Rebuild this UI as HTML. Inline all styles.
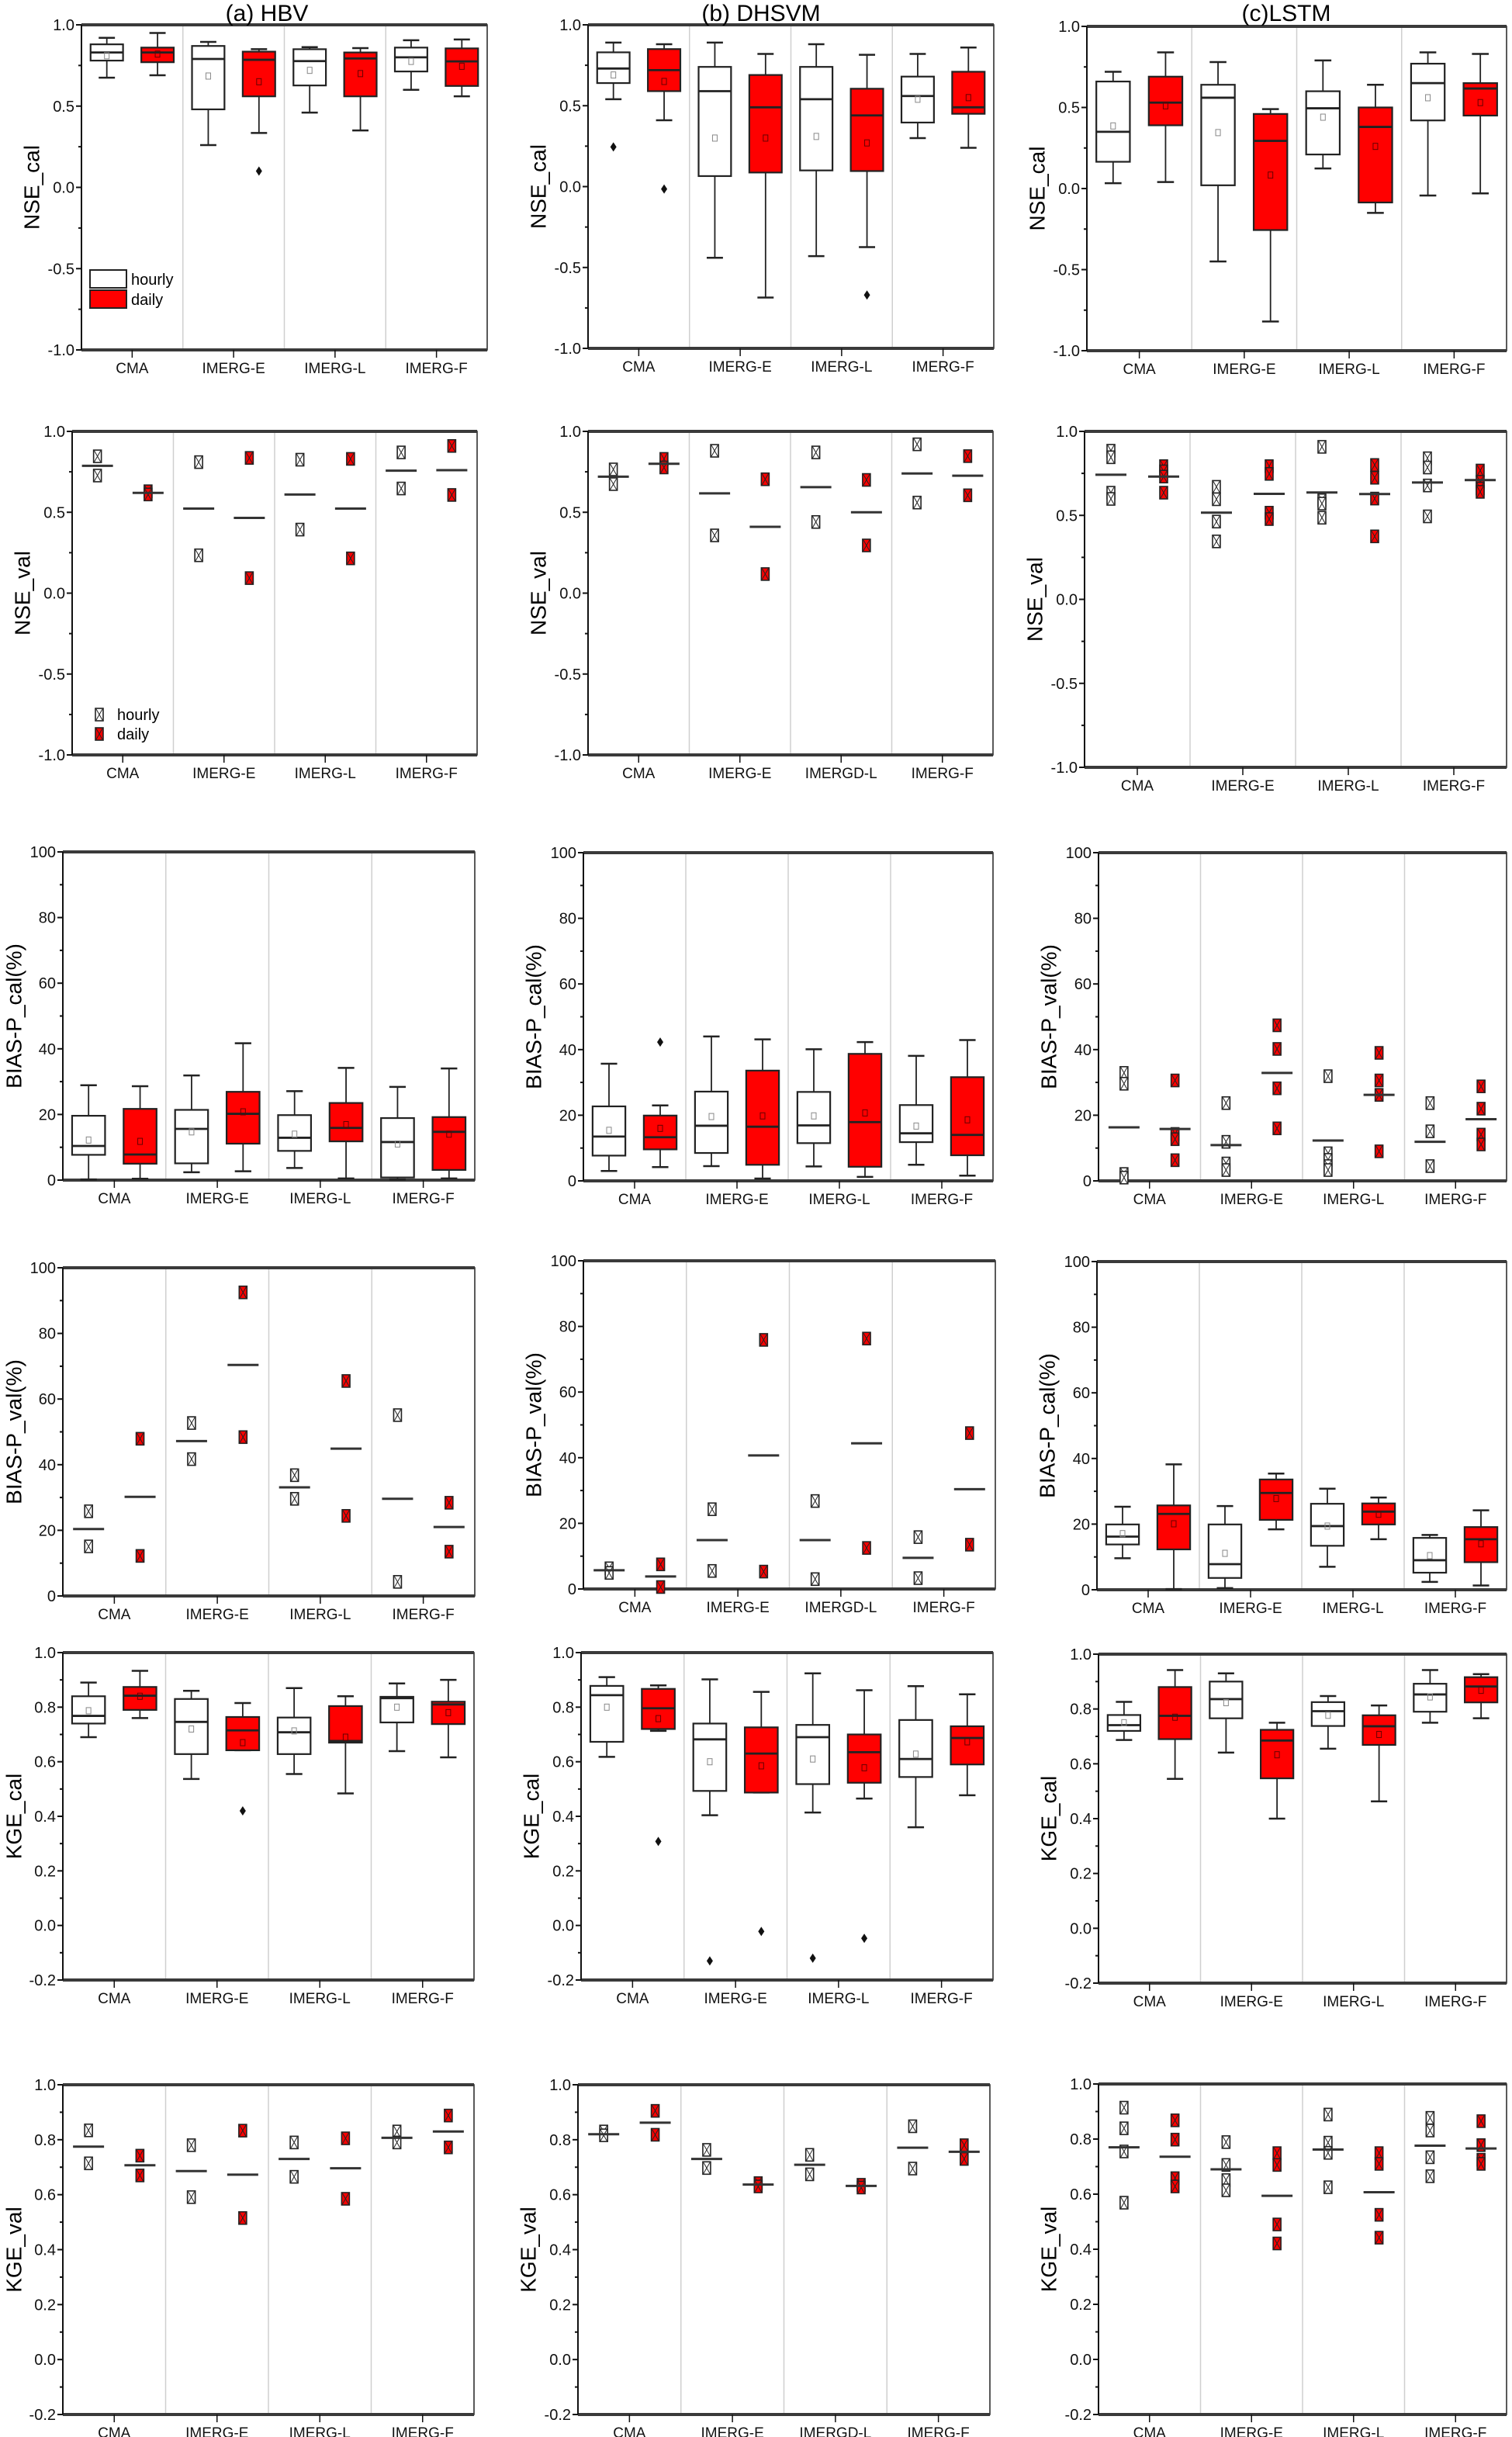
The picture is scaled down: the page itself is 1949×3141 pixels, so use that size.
<!DOCTYPE html>
<html><head><meta charset="utf-8"><style>
html,body{margin:0;padding:0;background:#fff;}
svg{display:block;font-family:"Liberation Sans",sans-serif;}
</style></head><body>
<svg id="fig" width="1949" height="3141" viewBox="0 0 1949 3141" xmlns="http://www.w3.org/2000/svg"></svg>
<script>
// ---------- data ----------
const categories = ["CMA","IMERG-E","IMERG-L","IMERG-F"];
const categoriesD = ["CMA","IMERG-E","IMERGD-L","IMERG-F"];
// box stats: [min, q1, median, q3, max, mean]
const hbvNseCalHourly = [[0.675,0.78,0.83,0.88,0.92,0.81],[0.26,0.48,0.79,0.87,0.895,0.685],[0.46,0.627,0.777,0.85,0.863,0.72],[0.60,0.713,0.80,0.86,0.905,0.775]];
const hbvNseCalDaily = [[0.69,0.77,0.83,0.86,0.95,0.82],[0.335,0.56,0.785,0.835,0.85,0.65],[0.35,0.56,0.793,0.83,0.857,0.70],[0.56,0.624,0.775,0.855,0.91,0.745]];
const hbvNseCalOutH = [];
const hbvNseCalOutD = [[1,0.10]];
const dhsvmNseCalHourly = [[0.54,0.64,0.73,0.83,0.89,0.69],[-0.44,0.065,0.59,0.74,0.89,0.30],[-0.43,0.10,0.54,0.74,0.88,0.31],[0.30,0.396,0.56,0.68,0.82,0.54]];
const dhsvmNseCalDaily = [[0.41,0.59,0.72,0.85,0.88,0.65],[-0.686,0.087,0.49,0.69,0.82,0.30],[-0.374,0.096,0.44,0.605,0.815,0.27],[0.24,0.45,0.49,0.71,0.86,0.55]];
const dhsvmNseCalOutH = [[0,0.245]];
const dhsvmNseCalOutD = [[0,-0.015],[2,-0.67]];
const lstmNseCalHourly = [[0.033,0.165,0.35,0.66,0.72,0.386],[-0.45,0.02,0.56,0.64,0.78,0.345],[0.124,0.21,0.495,0.60,0.79,0.44],[-0.043,0.42,0.65,0.77,0.84,0.56]];
const lstmNseCalDaily = [[0.04,0.39,0.53,0.69,0.84,0.51],[-0.82,-0.256,0.294,0.46,0.49,0.083],[-0.15,-0.086,0.38,0.50,0.64,0.26],[-0.03,0.45,0.617,0.65,0.83,0.53]];

// scatter points and mean lines
const hbvNseValHourly = [[0.846,0.727],[0.81,0.234],[0.825,0.393],[0.87,0.647]];
const hbvNseValHourlyMean = [0.787,0.523,0.61,0.757];
const hbvNseValDaily = [[0.63,0.61],[0.836,0.093],[0.83,0.215],[0.91,0.607]];
const hbvNseValDailyMean = [0.62,0.465,0.523,0.76];
const dhsvmNseValHourly = [[0.765,0.674],[0.88,0.357],[0.87,0.44],[0.92,0.56]];
const dhsvmNseValHourlyMean = [0.72,0.617,0.655,0.74];
const dhsvmNseValDaily = [[0.83,0.777],[0.704,0.118],[0.70,0.295],[0.847,0.605]];
const dhsvmNseValDailyMean = [0.80,0.41,0.50,0.726];
const lstmNseValHourly = [[0.885,0.846,0.635,0.598],[0.67,0.596,0.463,0.345],[0.908,0.59,0.57,0.486],[0.84,0.785,0.678,0.494]];
const lstmNseValHourlyMean = [0.742,0.516,0.636,0.696];
const lstmNseValDaily = [[0.793,0.762,0.731,0.635],[0.793,0.747,0.516,0.478],[0.80,0.724,0.60,0.375],[0.767,0.70,0.66,0.64]];
const lstmNseValDailyMean = [0.731,0.628,0.627,0.71];

const hbvBiasCalHourly = [[0.2,7.7,10.4,19.6,28.9,12.2],[2.4,5.1,15.6,21.4,31.9,14.7],[3.7,8.9,12.9,19.8,27.1,14.0],[0.2,0.8,11.6,18.9,28.4,11.0]];
const hbvBiasCalDaily = [[0.4,5.0,7.8,21.7,28.6,11.8],[2.7,11.1,20.2,26.9,41.7,20.8],[0.5,11.8,15.9,23.5,34.2,16.9],[0.5,3.1,14.7,19.2,34.0,14.0]];
const dhsvmBiasCalHourly = [[3.0,7.7,13.5,22.7,35.7,15.4],[4.5,8.5,16.8,27.2,44.0,19.6],[4.4,11.5,16.9,27.1,40.1,19.8],[4.9,11.8,14.5,23.1,38.1,16.7]];
const dhsvmBiasCalDaily = [[4.2,9.6,13.3,19.9,23.0,16.0],[0.7,4.9,16.5,33.6,43.1,19.8],[1.2,4.3,17.9,38.7,42.3,20.7],[1.6,7.8,14.0,31.6,42.9,18.6]];
const dhsvmBiasCalOutD = [[0,42.3]];
const lstmBiasValHourly = [[32.9,29.6,2.1,1.0],[23.7,11.9,5.3,3.3],[31.9,8.4,6.4,4.5,3.3],[23.7,15.1,4.5]];
const lstmBiasValHourlyMean = [16.3,10.9,12.3,11.9];
const lstmBiasValDaily = [[30.6,14.3,12.7,6.3],[47.4,40.2,28.2,16.0],[39.0,30.6,26.2,9.0],[28.8,22.0,14.1,11.1]];
const lstmBiasValDailyMean = [15.8,32.9,26.2,18.8];

const hbvBiasValHourly = [[25.8,15.1],[52.7,41.7],[36.8,29.6],[55.1,4.3]];
const hbvBiasValHourlyMean = [20.4,47.2,33.1,29.6];
const hbvBiasValDaily = [[47.9,12.2],[92.5,48.4],[65.5,24.4],[28.4,13.5]];
const hbvBiasValDailyMean = [30.2,70.4,44.9,21.0];
const dhsvmBiasValHourly = [[6.3,4.9],[24.3,5.5],[26.8,3.0],[15.8,3.3]];
const dhsvmBiasValHourlyMean = [5.7,14.9,14.9,9.5];
const dhsvmBiasValDaily = [[7.5,0.6],[75.9,5.3],[76.3,12.5],[47.5,13.5]];
const dhsvmBiasValDailyMean = [3.8,40.7,44.4,30.4];
const lstmBiasCalHourly = [[9.6,13.8,16.2,19.9,25.3,17.1],[0.5,3.6,7.8,19.9,25.5,11.1],[7.0,13.4,19.4,26.2,30.8,19.4],[2.4,5.2,9.0,15.8,16.7,10.4]];
const lstmBiasCalDaily = [[0.2,12.3,23.1,25.7,38.2,20.1],[18.4,21.3,29.5,33.6,35.4,27.8],[15.4,19.9,23.8,26.3,28.1,23.0],[1.3,8.4,15.4,19.1,24.2,14.0]];

const hbvKgeCalHourly = [[0.69,0.74,0.768,0.84,0.89,0.787],[0.537,0.628,0.746,0.83,0.86,0.72],[0.555,0.628,0.708,0.762,0.87,0.713],[0.639,0.744,0.833,0.838,0.887,0.80]];
const hbvKgeCalDaily = [[0.76,0.79,0.842,0.874,0.933,0.84],[0.642,0.642,0.715,0.764,0.815,0.67],[0.484,0.67,0.676,0.804,0.84,0.69],[0.616,0.738,0.81,0.82,0.90,0.78]];
const hbvKgeCalOutD = [[1,0.42]];
const dhsvmKgeCalHourly = [[0.618,0.673,0.844,0.878,0.91,0.80],[0.404,0.493,0.682,0.74,0.902,0.60],[0.414,0.518,0.69,0.735,0.924,0.61],[0.36,0.544,0.61,0.753,0.877,0.628]];
const dhsvmKgeCalDaily = [[0.713,0.72,0.796,0.867,0.88,0.758],[0.487,0.487,0.63,0.726,0.856,0.585],[0.465,0.523,0.635,0.70,0.862,0.578],[0.477,0.59,0.687,0.73,0.847,0.673]];
const dhsvmKgeCalOutH = [[1,-0.13],[2,-0.12]];
const dhsvmKgeCalOutD = [[0,0.308],[1,-0.022],[2,-0.047]];
const lstmKgeCalHourly = [[0.687,0.72,0.741,0.778,0.826,0.75],[0.641,0.766,0.836,0.90,0.93,0.823],[0.655,0.738,0.792,0.825,0.847,0.777],[0.75,0.79,0.853,0.892,0.942,0.844]];
const lstmKgeCalDaily = [[0.545,0.69,0.775,0.88,0.942,0.77],[0.40,0.547,0.685,0.724,0.75,0.633],[0.463,0.669,0.737,0.777,0.813,0.707],[0.766,0.824,0.882,0.916,0.927,0.868]];

const hbvKgeValHourly = [[0.834,0.714],[0.78,0.591],[0.79,0.665],[0.83,0.79]];
const hbvKgeValHourlyMean = [0.775,0.686,0.73,0.807];
const hbvKgeValDaily = [[0.742,0.67],[0.833,0.515],[0.805,0.585],[0.888,0.772]];
const hbvKgeValDailyMean = [0.707,0.673,0.696,0.83];
const dhsvmKgeValHourly = [[0.83,0.816],[0.763,0.697],[0.745,0.674],[0.849,0.695]];
const dhsvmKgeValHourlyMean = [0.82,0.73,0.709,0.771];
const dhsvmKgeValDaily = [[0.905,0.818],[0.642,0.63],[0.636,0.626],[0.78,0.73]];
const dhsvmKgeValDailyMean = [0.862,0.637,0.632,0.756];
const lstmKgeValHourly = [[0.914,0.839,0.755,0.569],[0.789,0.706,0.651,0.614],[0.889,0.787,0.75,0.625],[0.877,0.831,0.734,0.665]];
const lstmKgeValHourlyMean = [0.77,0.69,0.762,0.776];
const lstmKgeValDaily = [[0.868,0.798,0.658,0.628],[0.749,0.706,0.49,0.421],[0.749,0.71,0.525,0.442],[0.865,0.778,0.725,0.71]];
const lstmKgeValDailyMean = [0.736,0.594,0.607,0.766];

const nseTicks = [-1.0,-0.5,0.0,0.5,1.0];
const biasTicks = [0,20,40,60,80,100];
const kgeTicks = [-0.2,0.0,0.2,0.4,0.6,0.8,1.0];

// ---------- drawing ----------
const NS = "http://www.w3.org/2000/svg";
const svg = document.getElementById("fig");
function mk(tag, attrs, parent) {
  const e = document.createElementNS(NS, tag);
  for (const k in attrs) e.setAttribute(k, attrs[k]);
  (parent || svg).appendChild(e);
  return e;
}

function drawPanel(p) {
  const g = mk("g", {});
  
  
  const [x0, x1, y0, y1] = p.box;
  const lo = p.ticks[0], hi = p.ticks[p.ticks.length - 1];
  const Y = v => y1 - (v - lo) / (hi - lo) * (y1 - y0);
  const gw = (x1 - x0) / p.cats.length;
  const Xc = i => x0 + gw * (i + 0.5);
  const off = gw * 0.25;
  for (let i = 1; i < p.cats.length; i++) {
    const s = mk("line", {x1: x0 + gw * i, x2: x0 + gw * i, y1: y0, y2: y1, stroke: "#cfcfcf", "stroke-width": 1.5}, g);
    
    
  }
  const fr = mk("rect", {x: x0, y: y0, width: x1 - x0, height: y1 - y0, fill: "none", stroke: "#222", "stroke-width": 1.5}, g);
  
  
  mk("line", {x1: x0, x2: x1, y1: y0, y2: y0, stroke: "#3a3a3a", "stroke-width": 4}, g);
  mk("line", {x1: x0, x2: x1, y1: y1, y2: y1, stroke: "#3a3a3a", "stroke-width": 4}, g);
  mk("line", {x1: x0, x2: x0, y1: y0, y2: y1, stroke: "#111", "stroke-width": 2}, g);
  const step = p.ticks[1] - p.ticks[0];
  p.ticks.forEach((t, k) => {
    mk("line", {x1: x0 - 7, x2: x0, y1: Y(t), y2: Y(t), stroke: "#111", "stroke-width": 2}, g);
    const tl = mk("text", {x: x0 - 9, y: Y(t) + 7, "text-anchor": "end", "font-size": 20, fill: "#111"}, g);
    tl.textContent = p.fmt(t);
    
    
    if (k < p.ticks.length - 1) {
      const m = t + step / 2;
      mk("line", {x1: x0 - 4, x2: x0, y1: Y(m), y2: Y(m), stroke: "#111", "stroke-width": 2}, g);
    }
  });
  p.cats.forEach((c, i) => {
    mk("line", {x1: Xc(i), x2: Xc(i), y1: y1, y2: y1 + 10, stroke: "#111", "stroke-width": 1.5}, g);
    const t = mk("text", {x: Xc(i), y: y1 + 30, "text-anchor": "middle", "font-size": 19, fill: "#111"}, g);
    t.textContent = c;
    
    
  });
  const lx = Math.max(18, x0 - 64);
  const yl = mk("text", {x: 0, y: 0, "text-anchor": "middle", "dominant-baseline": "central", "font-size": 28, fill: "#000", transform: `translate(${lx},${(y0 + y1) / 2}) rotate(-90)`}, g);
  yl.textContent = p.ylabel;
  
  

  const bw = gw * 0.32;
  function boxes(stats, fill, dx, label) {
    stats.forEach((s, i) => {
      const cx = Xc(i) + dx;
      const bg = mk("g", {}, g);
      
      
      const cw = bw * 0.5;
      mk("line", {x1: cx, x2: cx, y1: Y(s[4]), y2: Y(s[3]), stroke: "#222", "stroke-width": 1.8}, bg);
      mk("line", {x1: cx, x2: cx, y1: Y(s[1]), y2: Y(s[0]), stroke: "#222", "stroke-width": 1.8}, bg);
      mk("line", {x1: cx - cw / 2, x2: cx + cw / 2, y1: Y(s[4]), y2: Y(s[4]), stroke: "#222", "stroke-width": 2.5}, bg);
      mk("line", {x1: cx - cw / 2, x2: cx + cw / 2, y1: Y(s[0]), y2: Y(s[0]), stroke: "#222", "stroke-width": 2.5}, bg);
      mk("rect", {x: cx - bw / 2, y: Y(s[3]), width: bw, height: Math.max(1, Y(s[1]) - Y(s[3])), fill: fill, stroke: "#222", "stroke-width": 2.2}, bg);
      mk("line", {x1: cx - bw / 2, x2: cx + bw / 2, y1: Y(s[2]), y2: Y(s[2]), stroke: "#222", "stroke-width": 2.8}, bg);
      mk("rect", {x: cx - 3, y: Y(s[5]) - 4, width: 6, height: 8, fill: "none", stroke: fill === "#fff" ? "#888" : "#600", "stroke-width": 1}, bg);
    });
  }
  function outliers(list, dx) {
    (list || []).forEach(o => {
      const cx = Xc(o[0]) + dx, cy = Y(o[1]);
      const d = mk("path", {d: `M${cx},${cy - 6}L${cx + 4},${cy}L${cx},${cy + 6}L${cx - 4},${cy}Z`, fill: "#111"}, g);
      
      
    });
  }
  function marker(cx, cy, fill, parent) {
    mk("rect", {x: cx - 5, y: cy - 8, width: 10, height: 16, fill: fill, stroke: "#222", "stroke-width": 1.6}, parent);
    mk("path", {d: `M${cx - 4},${cy - 7}L${cx + 4},${cy + 7}M${cx + 4},${cy - 7}L${cx - 4},${cy + 7}`, stroke: "#222", "stroke-width": 1}, parent);
  }
  function scatter(pts, means, fill, dx, label) {
    pts.forEach((arr, i) => {
      const cx = Xc(i) + dx;
      const sg = mk("g", {}, g);
      
      
      arr.forEach(v => marker(cx, Y(v), fill, sg));
      mk("line", {x1: cx - 20, x2: cx + 20, y1: Y(means[i]), y2: Y(means[i]), stroke: "#333", "stroke-width": 3}, sg);
    });
  }
  if (p.type === "box") {
    boxes(p.h, "#fff", -off, "hourly");
    boxes(p.d, "#ff0000", off, "daily");
    outliers(p.oh, -off);
    outliers(p.od, off);
  } else {
    scatter(p.h, p.hm, "#fff", -off, "hourly");
    scatter(p.d, p.dm, "#ff0000", off, "daily");
  }
  if (p.legend === "box") {
    const lg = mk("g", {}, g);
    
    
    mk("rect", {x: x0 + 11, y: y0 + 316, width: 47, height: 23, fill: "#fff", stroke: "#222", "stroke-width": 2}, lg);
    mk("rect", {x: x0 + 11, y: y0 + 342, width: 47, height: 23, fill: "#ff0000", stroke: "#222", "stroke-width": 2}, lg);
    const t1 = mk("text", {x: x0 + 64, y: y0 + 335, "font-size": 20}, lg); t1.textContent = "hourly";
    const t2 = mk("text", {x: x0 + 64, y: y0 + 361, "font-size": 20}, lg); t2.textContent = "daily";
  } else if (p.legend === "pt") {
    const lg = mk("g", {}, g);
    
    
    marker(x0 + 35, y0 + 365, "#fff", lg);
    marker(x0 + 35, y0 + 390, "#ff0000", lg);
    const t1 = mk("text", {x: x0 + 58, y: y0 + 372, "font-size": 20}, lg); t1.textContent = "hourly";
    const t2 = mk("text", {x: x0 + 58, y: y0 + 397, "font-size": 20}, lg); t2.textContent = "daily";
  }
}

const f1 = v => v.toFixed(1), f0 = v => v.toFixed(0);
const panels = [
  {name:"hbv-nse-cal", box:[105,628,32,451], ticks:nseTicks, fmt:f1, cats:categories, ylabel:"NSE_cal", type:"box", h:hbvNseCalHourly, d:hbvNseCalDaily, oh:hbvNseCalOutH, od:hbvNseCalOutD, legend:"box"},
  {name:"dhsvm-nse-cal", box:[758,1281,32,449], ticks:nseTicks, fmt:f1, cats:categories, ylabel:"NSE_cal", type:"box", h:dhsvmNseCalHourly, d:dhsvmNseCalDaily, oh:dhsvmNseCalOutH, od:dhsvmNseCalOutD},
  {name:"lstm-nse-cal", box:[1401,1942,34,452], ticks:nseTicks, fmt:f1, cats:categories, ylabel:"NSE_cal", type:"box", h:lstmNseCalHourly, d:lstmNseCalDaily},
  {name:"hbv-nse-val", box:[93,615,556,973], ticks:nseTicks, fmt:f1, cats:categories, ylabel:"NSE_val", type:"pt", h:hbvNseValHourly, hm:hbvNseValHourlyMean, d:hbvNseValDaily, dm:hbvNseValDailyMean, legend:"pt"},
  {name:"dhsvm-nse-val", box:[758,1280,556,973], ticks:nseTicks, fmt:f1, cats:categoriesD, ylabel:"NSE_val", type:"pt", h:dhsvmNseValHourly, hm:dhsvmNseValHourlyMean, d:dhsvmNseValDaily, dm:dhsvmNseValDailyMean},
  {name:"lstm-nse-val", box:[1398,1942,556,989], ticks:nseTicks, fmt:f1, cats:categories, ylabel:"NSE_val", type:"pt", h:lstmNseValHourly, hm:lstmNseValHourlyMean, d:lstmNseValDaily, dm:lstmNseValDailyMean},
  {name:"hbv-bias-cal", box:[81,612,1098,1521], ticks:biasTicks, fmt:f0, cats:categories, ylabel:"BIAS-P_cal(%)", type:"box", h:hbvBiasCalHourly, d:hbvBiasCalDaily},
  {name:"dhsvm-bias-cal", box:[752,1280,1099,1522], ticks:biasTicks, fmt:f0, cats:categories, ylabel:"BIAS-P_cal(%)", type:"box", h:dhsvmBiasCalHourly, d:dhsvmBiasCalDaily, od:dhsvmBiasCalOutD},
  {name:"lstm-bias-val", box:[1416,1942,1099,1522], ticks:biasTicks, fmt:f0, cats:categories, ylabel:"BIAS-P_val(%)", type:"pt", h:lstmBiasValHourly, hm:lstmBiasValHourlyMean, d:lstmBiasValDaily, dm:lstmBiasValDailyMean},
  {name:"hbv-bias-val", box:[81,612,1634,2057], ticks:biasTicks, fmt:f0, cats:categories, ylabel:"BIAS-P_val(%)", type:"pt", h:hbvBiasValHourly, hm:hbvBiasValHourlyMean, d:hbvBiasValDaily, dm:hbvBiasValDailyMean},
  {name:"dhsvm-bias-val", box:[752,1283,1625,2048], ticks:biasTicks, fmt:f0, cats:categoriesD, ylabel:"BIAS-P_val(%)", type:"pt", h:dhsvmBiasValHourly, hm:dhsvmBiasValHourlyMean, d:dhsvmBiasValDaily, dm:dhsvmBiasValDailyMean},
  {name:"lstm-bias-cal", box:[1414,1942,1626,2049], ticks:biasTicks, fmt:f0, cats:categories, ylabel:"BIAS-P_cal(%)", type:"box", h:lstmBiasCalHourly, d:lstmBiasCalDaily},
  {name:"hbv-kge-cal", box:[81,611,2130,2552], ticks:kgeTicks, fmt:f1, cats:categories, ylabel:"KGE_cal", type:"box", h:hbvKgeCalHourly, d:hbvKgeCalDaily, od:hbvKgeCalOutD},
  {name:"dhsvm-kge-cal", box:[749,1280,2130,2552], ticks:kgeTicks, fmt:f1, cats:categories, ylabel:"KGE_cal", type:"box", h:dhsvmKgeCalHourly, d:dhsvmKgeCalDaily, oh:dhsvmKgeCalOutH, od:dhsvmKgeCalOutD},
  {name:"lstm-kge-cal", box:[1416,1942,2132,2556], ticks:kgeTicks, fmt:f1, cats:categories, ylabel:"KGE_cal", type:"box", h:lstmKgeCalHourly, d:lstmKgeCalDaily},
  {name:"hbv-kge-val", box:[81,611,2687,3112], ticks:kgeTicks, fmt:f1, cats:categories, ylabel:"KGE_val", type:"pt", h:hbvKgeValHourly, hm:hbvKgeValHourlyMean, d:hbvKgeValDaily, dm:hbvKgeValDailyMean},
  {name:"dhsvm-kge-val", box:[745,1276,2687,3112], ticks:kgeTicks, fmt:f1, cats:categoriesD, ylabel:"KGE_val", type:"pt", h:dhsvmKgeValHourly, hm:dhsvmKgeValHourlyMean, d:dhsvmKgeValDaily, dm:dhsvmKgeValDailyMean},
  {name:"lstm-kge-val", box:[1416,1942,2686,3112], ticks:kgeTicks, fmt:f1, cats:categories, ylabel:"KGE_val", type:"pt", h:lstmKgeValHourly, hm:lstmKgeValHourlyMean, d:lstmKgeValDaily, dm:lstmKgeValDailyMean}
];
panels.forEach(drawPanel);

const titles = [["(a) HBV",344],["(b) DHSVM",981],["(c)LSTM",1658]];
titles.forEach(t => {
  const e = mk("text", {x: t[1], y: 27, "text-anchor": "middle", "font-size": 30, fill: "#000"});
  e.textContent = t[0];
  
  
});
</script>
</body></html>
